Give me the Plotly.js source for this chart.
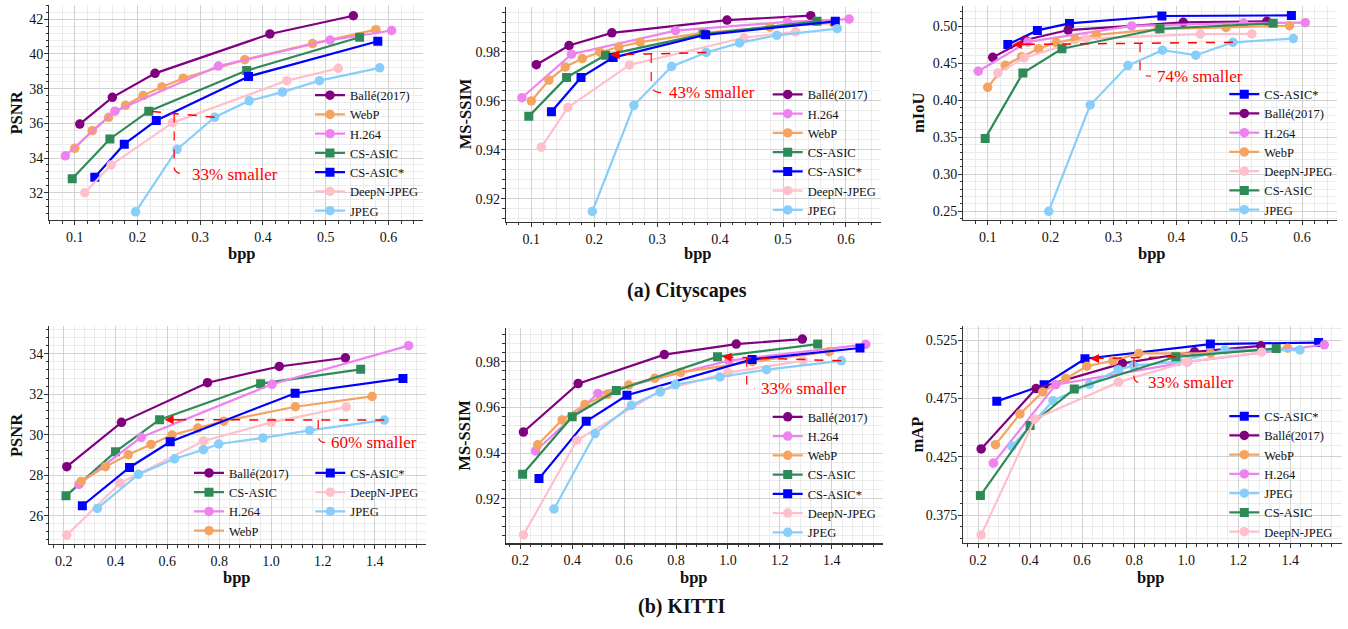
<!DOCTYPE html>
<html><head><meta charset="utf-8">
<script src="https://cdn.plot.ly/plotly-3.0.1.min.js"></script>
<style>html,body{margin:0;padding:0;background:#fff;} #chart{width:1348px;height:629px;}</style>
</head><body><div id="chart"></div>
<script>
// ================= DATA: Cityscapes =================
const cityBalleBpp   = [0.108, 0.160, 0.228, 0.411, 0.544];
const cityBallePSNR  = [35.96, 37.50, 38.88, 41.15, 42.20];
const cityBalleSSIM  = [0.9747, 0.9825, 0.9877, 0.9929, 0.9947];
const cityBalleMIoU  = [0.4581, 0.4815, 0.4950, 0.5054, 0.5068];

const cityWebpBpp    = [0.100, 0.128, 0.154, 0.181, 0.209, 0.239, 0.273, 0.371, 0.479, 0.580];
const cityWebpPSNR   = [34.56, 35.58, 36.35, 37.04, 37.60, 38.10, 38.60, 39.67, 40.60, 41.40];
const cityWebpSSIM   = [0.9599, 0.9684, 0.9738, 0.9772, 0.9798, 0.9819, 0.9839, 0.9876, 0.9900, 0.9918];
const cityWebpMIoU   = [0.4176, 0.4475, 0.4590, 0.4698, 0.4781, 0.4828, 0.4884, 0.4962, 0.4985, 0.5008];

const cityH264Bpp    = [0.085, 0.164, 0.329, 0.507, 0.605];
const cityH264PSNR   = [34.13, 36.70, 39.30, 40.80, 41.35];
const cityH264SSIM   = [0.9612, 0.9790, 0.9886, 0.9922, 0.9933];
const cityH264MIoU   = [0.4394, 0.4790, 0.5006, 0.5045, 0.5050];

const cityCsBpp      = [0.096, 0.156, 0.218, 0.374, 0.554];
const cityCsPSNR     = [32.80, 35.10, 36.70, 39.04, 40.96];
const cityCsSSIM     = [0.9536, 0.9695, 0.9786, 0.9872, 0.9924];
const cityCsMIoU     = [0.3486, 0.4369, 0.4698, 0.4968, 0.5041];

const cityCsStarBpp  = [0.132, 0.179, 0.230, 0.377, 0.583];
const cityCsStarPSNR = [32.90, 34.80, 36.17, 38.70, 40.73];
const cityCsStarSSIM = [0.9555, 0.9695, 0.9776, 0.9869, 0.9924];
const cityCsStarMIoU = [0.4754, 0.4945, 0.5040, 0.5140, 0.5148];

const cityDeepBpp    = [0.116, 0.158, 0.256, 0.438, 0.520];
const cityDeepPSNR   = [32.00, 33.60, 36.04, 38.46, 39.17];
const cityDeepSSIM   = [0.9410, 0.9572, 0.9746, 0.9857, 0.9881];
const cityDeepMIoU   = [0.4370, 0.4574, 0.4833, 0.4896, 0.4898];

const cityJpegBpp    = [0.197, 0.263, 0.323, 0.378, 0.431, 0.490, 0.586];
const cityJpegPSNR   = [30.90, 34.50, 36.35, 37.30, 37.80, 38.46, 39.20];
const cityJpegSSIM   = [0.9148, 0.9581, 0.9740, 0.9797, 0.9836, 0.9867, 0.9894];
const cityJpegMIoU   = [0.2500, 0.3937, 0.4470, 0.4678, 0.4610, 0.4784, 0.4835];

// ================= DATA: KITTI =================
const kitBalleBpp    = [0.212, 0.423, 0.755, 1.032, 1.287];
const kitBallePSNR   = [28.42, 30.61, 32.57, 33.37, 33.80];
const kitBalleSSIM   = [0.9492, 0.9704, 0.9831, 0.9877, 0.9899];
const kitBalleMAP    = [0.4316, 0.4834, 0.5050, 0.5149, 0.5200];

const kitCsBpp       = [0.209, 0.400, 0.570, 0.960, 1.346];
const kitCsPSNR      = [26.98, 29.16, 30.74, 32.52, 33.23];
const kitCsSSIM      = [0.9307, 0.9559, 0.9674, 0.9822, 0.9877];
const kitCsMAP       = [0.3917, 0.4518, 0.4830, 0.5106, 0.5177];

const kitH264Bpp     = [0.259, 0.499, 1.004, 1.531];
const kitH264PSNR    = [27.54, 29.87, 32.49, 34.40];
const kitH264SSIM    = [0.9409, 0.9661, 0.9805, 0.9876];
const kitH264MAP     = [0.4195, 0.4867, 0.5062, 0.5209];

const kitWebpBpp     = [0.267, 0.361, 0.449, 0.537, 0.618, 0.718, 0.818, 1.094, 1.390];
const kitWebpPSNR    = [27.69, 28.42, 29.01, 29.52, 29.98, 30.33, 30.67, 31.38, 31.89];
const kitWebpSSIM    = [0.9436, 0.9545, 0.9613, 0.9657, 0.9698, 0.9727, 0.9753, 0.9800, 0.9844];
const kitWebpMAP     = [0.4353, 0.4616, 0.4805, 0.4919, 0.5025, 0.5072, 0.5135, 0.5135, 0.5180];

const kitCsStarBpp   = [0.272, 0.454, 0.611, 1.093, 1.509];
const kitCsStarPSNR  = [26.49, 28.38, 29.65, 32.05, 32.78];
const kitCsStarSSIM  = [0.9288, 0.9539, 0.9653, 0.9810, 0.9860];
const kitCsStarMAP   = [0.4724, 0.4867, 0.5089, 0.5215, 0.5228];

const kitDeepBpp     = [0.212, 0.418, 0.740, 1.001, 1.290];
const kitDeepPSNR    = [25.04, 27.61, 29.69, 30.61, 31.37];
const kitDeepSSIM    = [0.9041, 0.9456, 0.9672, 0.9752, 0.9805];
const kitDeepMAP     = [0.3579, 0.4572, 0.4889, 0.5062, 0.5145];

const kitJpegBpp     = [0.330, 0.488, 0.628, 0.739, 0.798, 0.969, 1.149, 1.437];
const kitJpegPSNR    = [26.36, 28.04, 28.81, 29.26, 29.54, 29.84, 30.21, 30.72];
const kitJpegSSIM    = [0.9155, 0.9485, 0.9609, 0.9667, 0.9700, 0.9733, 0.9765, 0.9804];
const kitJpegMAP     = [0.4340, 0.4730, 0.4870, 0.4996, 0.5030, 0.5065, 0.5165, 0.5165];

// ================= LABELS =================
const yTitles = ['PSNR', 'MS-SSIM', 'mIoU', 'PSNR', 'MS-SSIM', 'mAP'];
const xTitle = 'bpp';
const captions = ['(a) Cityscapes', '(b) KITTI'];
const calloutTexts = ['33% smaller', '43% smaller', '74% smaller', '60% smaller', '33% smaller', '33% smaller'];

// ================= STYLE =================
const SERIF = 'Liberation Serif';
const STYLE = {
  'Ballé(2017)': {color: '#800080', symbol: 'circle'},
  'WebP':        {color: '#F4A460', symbol: 'circle'},
  'H.264':       {color: '#EE82EE', symbol: 'circle'},
  'CS-ASIC':     {color: '#2E8B57', symbol: 'square'},
  'CS-ASIC*':    {color: '#0000FF', symbol: 'square'},
  'DeepN-JPEG':  {color: '#FFC0CB', symbol: 'circle'},
  'JPEG':        {color: '#87CEFA', symbol: 'circle'}
};

const W = 1348, H = 629;
function px2x(p){ return p / W; }
function px2y(p){ return 1 - p / H; }

// subplot boxes in pixels [left, right, top, bottom]
const BOX = [
  [49.3, 423, 5, 220],
  [506, 880.6, 6.7, 221.7],
  [963.3, 1336.7, 6, 220],
  [49.3, 426, 326, 544],
  [506, 882.7, 328, 543.3],
  [963.3, 1341.5, 326, 543]
];
const XR = [[0.0595, 0.655], [0.0598, 0.655], [0.0612, 0.655], [0.1445, 1.598], [0.1449, 1.5965], [0.1433, 1.597]];
const YR = [[30.43, 42.82], [0.9106, 0.99837], [0.2383, 0.5275], [24.6, 35.37], [0.90046, 0.99476], [0.351, 0.537]];
const YD = [[2, 0, 0.4, ''], [0.02, 0, 0.004, '.2f'], [0.05, 0, 0.01, '.2f'], [2, 0, 0.4, ''], [0.02, 0, 0.004, '.2f'], [0.05, 0.375, 0.01, '.3f']];
// axis-title centres in pixels: [xTitleX, xTitleY, yTitleX]
const TITLE_POS = [[242, 254, 16], [698, 254, 465], [1152, 254, 918], [237, 577, 16], [694, 577, 465], [1151, 577, 917]];

// series per subplot in drawing/legend order: [name, x, y]
const SERIES = [
  [['Ballé(2017)', cityBalleBpp, cityBallePSNR], ['WebP', cityWebpBpp, cityWebpPSNR], ['H.264', cityH264Bpp, cityH264PSNR],
   ['CS-ASIC', cityCsBpp, cityCsPSNR], ['CS-ASIC*', cityCsStarBpp, cityCsStarPSNR], ['DeepN-JPEG', cityDeepBpp, cityDeepPSNR], ['JPEG', cityJpegBpp, cityJpegPSNR]],
  [['Ballé(2017)', cityBalleBpp, cityBalleSSIM], ['H.264', cityH264Bpp, cityH264SSIM], ['WebP', cityWebpBpp, cityWebpSSIM],
   ['CS-ASIC', cityCsBpp, cityCsSSIM], ['CS-ASIC*', cityCsStarBpp, cityCsStarSSIM], ['DeepN-JPEG', cityDeepBpp, cityDeepSSIM], ['JPEG', cityJpegBpp, cityJpegSSIM]],
  [['CS-ASIC*', cityCsStarBpp, cityCsStarMIoU], ['Ballé(2017)', cityBalleBpp, cityBalleMIoU], ['H.264', cityH264Bpp, cityH264MIoU],
   ['WebP', cityWebpBpp, cityWebpMIoU], ['DeepN-JPEG', cityDeepBpp, cityDeepMIoU], ['CS-ASIC', cityCsBpp, cityCsMIoU], ['JPEG', cityJpegBpp, cityJpegMIoU]],
  [['Ballé(2017)', kitBalleBpp, kitBallePSNR], ['CS-ASIC', kitCsBpp, kitCsPSNR], ['H.264', kitH264Bpp, kitH264PSNR], ['WebP', kitWebpBpp, kitWebpPSNR],
   ['CS-ASIC*', kitCsStarBpp, kitCsStarPSNR], ['DeepN-JPEG', kitDeepBpp, kitDeepPSNR], ['JPEG', kitJpegBpp, kitJpegPSNR]],
  [['Ballé(2017)', kitBalleBpp, kitBalleSSIM], ['H.264', kitH264Bpp, kitH264SSIM], ['WebP', kitWebpBpp, kitWebpSSIM],
   ['CS-ASIC', kitCsBpp, kitCsSSIM], ['CS-ASIC*', kitCsStarBpp, kitCsStarSSIM], ['DeepN-JPEG', kitDeepBpp, kitDeepSSIM], ['JPEG', kitJpegBpp, kitJpegSSIM]],
  [['CS-ASIC*', kitCsStarBpp, kitCsStarMAP], ['Ballé(2017)', kitBalleBpp, kitBalleMAP], ['WebP', kitWebpBpp, kitWebpMAP], ['H.264', kitH264Bpp, kitH264MAP],
   ['JPEG', kitJpegBpp, kitJpegMAP], ['CS-ASIC', kitCsBpp, kitCsMAP], ['DeepN-JPEG', kitDeepBpp, kitDeepMAP]]
];
const LEGEND_OF = (s, i) => {
  if (s === 0) return 'legend';
  if (s === 1) return 'legend2';
  if (s === 2) return 'legend3';
  if (s === 3) return i < 4 ? 'legend4' : 'legend5';
  if (s === 4) return 'legend6';
  return 'legend7';
};
const LEG_POS = {legend: [310, 80.5], legend2: [767.7, 79.8], legend3: [1224.3, 79.5],
                 legend4: [189, 458.3], legend5: [310.3, 458.3], legend6: [767.7, 402.2], legend7: [1224.3, 401.5]};

// arrow callouts: [tail series, tail idx, head series, head idx, bendX, bendBottomY, textX, textY]
const CALLOUT = [
  ['JPEG', 2, 'CS-ASIC', 2, 0.2585, 33.45, 0.284, 33.08],
  ['JPEG', 3, 'CS-ASIC', 2, 0.2905, 0.9668, 0.3153, 0.9633],
  ['JPEG', 5, 'CS-ASIC*', 0, 0.3423, 0.4387, 0.3667, 0.4328],
  ['JPEG', 7, 'CS-ASIC', 2, 1.182, 30.0, 1.225, 29.62],
  ['JPEG', 7, 'CS-ASIC', 3, 1.0725, 0.9705, 1.121, 0.9683],
  ['CS-ASIC', 3, 'CS-ASIC*', 2, 0.799, 0.4939, 0.847, 0.4882]
];

const traces = [];
const layout = {
  width: W, height: H,
  margin: {l: 0, r: 0, t: 0, b: 0, pad: 0},
  paper_bgcolor: '#ffffff', plot_bgcolor: '#ffffff',
  font: {family: SERIF, color: '#111'},
  shapes: [], annotations: []
};

SERIES.forEach((list, s) => {
  const k = s + 1;
  const xa = 'x' + (k === 1 ? '' : k), ya = 'y' + (k === 1 ? '' : k);
  list.forEach((ser, i) => {
    const st = STYLE[ser[0]];
    traces.push({
      type: 'scatter', mode: 'lines+markers', name: ser[0], x: ser[1], y: ser[2],
      xaxis: xa, yaxis: ya, legend: LEGEND_OF(s, i),
      line: {color: st.color, width: 2.2},
      marker: {color: st.color, symbol: st.symbol, size: st.symbol === 'square' ? 9 : 9.5, line: {width: 0}},
      hoverinfo: 'skip'
    });
  });
  const b = BOX[s];
  const axBase = {
    ticks: 'outside', ticklen: 4, tickwidth: 1, tickcolor: '#333',
    showline: true, linecolor: '#333', linewidth: 1.2, mirror: false,
    showgrid: true, gridcolor: '#d2d2d2', gridwidth: 1, zeroline: false,
    automargin: false, tickfont: {family: SERIF, size: 14, color: '#111'}
  };
  layout['xaxis' + (k === 1 ? '' : k)] = Object.assign({}, axBase, {
    domain: [px2x(b[0]), px2x(b[1])], range: XR[s], anchor: ya,
    tick0: 0, dtick: s < 3 ? 0.1 : 0.2, tickformat: '.1f',
    minor: {tick0: 0, dtick: s < 3 ? 0.02 : 0.04, ticks: 'outside', ticklen: 2.5, tickcolor: '#333', showgrid: true, gridcolor: '#ececec', gridwidth: 1}
  });
  layout['yaxis' + (k === 1 ? '' : k)] = Object.assign({}, axBase, {
    domain: [px2y(b[3]), px2y(b[2])], range: YR[s], anchor: xa,
    tick0: YD[s][1], dtick: YD[s][0], tickformat: YD[s][3], ticklabelstandoff: -2,
    minor: {tick0: YD[s][1], dtick: YD[s][2], ticks: 'outside', ticklen: 2.5, tickcolor: '#333', showgrid: true, gridcolor: '#ececec', gridwidth: 1}
  });

  // axis titles
  const tp = TITLE_POS[s];
  layout.annotations.push({xref: 'paper', yref: 'paper', x: px2x(tp[0]), y: px2y(tp[1]), text: '<b>' + xTitle + '</b>',
    showarrow: false, xanchor: 'center', yanchor: 'middle', font: {family: SERIF, size: 16.5, color: '#111'}});
  layout.annotations.push({xref: 'paper', yref: 'paper', x: px2x(tp[2]), y: px2y((b[2] + b[3]) / 2), text: '<b>' + yTitles[s] + '</b>',
    textangle: -90, showarrow: false, xanchor: 'center', yanchor: 'middle', font: {family: SERIF, size: 16.5, color: '#111'}});

  // callout
  const c = CALLOUT[s];
  const find = (name) => list.find(e => e[0] === name);
  const tS = find(c[0]), hS = find(c[2]);
  const tx = tS[1][c[1]], ty = tS[2][c[1]], hx = hS[1][c[3]], hy = hS[2][c[3]];
  const ex = hx + (tx - hx) * 0.05, ey = hy + (ty - hy) * 0.05;
  layout.shapes.push({type: 'line', xref: xa, yref: ya, x0: tx, y0: ty, x1: ex, y1: ey,
    line: {color: 'red', width: 1.5, dash: 'dash'}, layer: 'above'});
  layout.annotations.push({xref: xa, yref: ya, x: hx, y: hy, axref: xa, ayref: ya,
    ax: hx + (tx - hx) * 0.1, ay: hy + (ty - hy) * 0.1, text: '', showarrow: true,
    arrowhead: 2, arrowsize: 1.2, arrowwidth: 1.5, arrowcolor: 'red', standoff: 5});
  const bx = c[4];
  const lineY = hy + (ty - hy) * (bx - hx) / (tx - hx);
  const xr = XR[s][1] - XR[s][0];
  const endX = c[6] - 0.012 * xr;
  layout.shapes.push({type: 'path', xref: xa, yref: ya,
    path: `M ${bx},${lineY} L ${bx},${c[5]} Q ${bx},${c[7]} ${endX},${c[7]}`,
    line: {color: 'red', width: 1.2, dash: 'dash'}, layer: 'above'});
  layout.annotations.push({xref: xa, yref: ya, x: c[6], y: c[7], text: calloutTexts[s],
    showarrow: false, xanchor: 'left', yanchor: 'middle',
    font: {family: SERIF, size: 17, color: 'red'}});
});

Object.keys(LEG_POS).forEach(id => {
  layout[id] = {x: px2x(LEG_POS[id][0]), y: px2y(LEG_POS[id][1]), xanchor: 'left', yanchor: 'top',
    bgcolor: 'rgba(0,0,0,0)', borderwidth: 0, font: {family: SERIF, size: 12.5, color: '#111'},
    itemsizing: 'trace', traceorder: 'normal'};
});

layout.annotations.push({xref: 'paper', yref: 'paper', x: px2x(687), y: px2y(290), text: '<b>' + captions[0] + '</b>',
  showarrow: false, xanchor: 'center', yanchor: 'middle', font: {family: SERIF, size: 20, color: '#111'}});
layout.annotations.push({xref: 'paper', yref: 'paper', x: px2x(681), y: px2y(606), text: '<b>' + captions[1] + '</b>',
  showarrow: false, xanchor: 'center', yanchor: 'middle', font: {family: SERIF, size: 20, color: '#111'}});

Plotly.newPlot('chart', traces, layout, {staticPlot: true, displayModeBar: false});
</script></body></html>
